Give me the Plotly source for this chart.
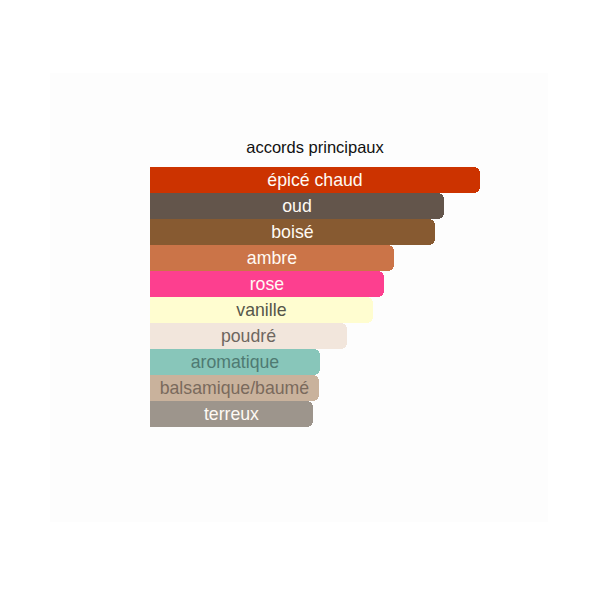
import plotly.graph_objects as go

# main accords, top to bottom, bar length relative to the strongest accord
accords = [
    "épicé chaud", "oud", "boisé", "ambre", "rose",
    "vanille", "poudré", "aromatique", "balsamique/baumé", "terreux",
]
strength = [100, 89, 86.5, 73.8, 71, 67.7, 59.8, 51.5, 51.2, 49.4]
bar_colors = [
    "#cc3300", "#63554b", "#875a31", "#cb7448", "#fd3f8f",
    "#fffdd0", "#f2e6dc", "#88c6ba", "#c9b29c", "#9d958c",
]
text_colors = [
    "#fffaf4", "#fffaf4", "#fffaf4", "#fffaf4", "#fffaf4",
    "#56564a", "#6e6660", "#4f7a72", "#7a6a5c", "#fffaf4",
]

fig = go.Figure()
fig.add_trace(
    go.Bar(
        x=strength,
        y=accords,
        orientation="h",
        text=accords,
        textposition="inside",
        insidetextanchor="middle",
        constraintext="none",
        textfont=dict(family="Arial, Liberation Sans, sans-serif", size=17.7, color=text_colors),
        marker=dict(color=bar_colors, cornerradius=6, line=dict(width=0)),
        hoverinfo="skip",
        showlegend=False,
    )
)

# very faint panel behind the chart
fig.add_shape(
    type="rect", xref="paper", yref="paper",
    x0=-0.303, x1=1.206, y0=-0.365, y1=1.3615,
    fillcolor="#fdfdfd", line=dict(width=0), layer="below",
)

fig.update_layout(
    width=600,
    height=600,
    margin=dict(l=142, r=128, t=159, b=181),
    bargap=0,
    paper_bgcolor="#ffffff",
    plot_bgcolor="rgba(0,0,0,0)",
    title=dict(
        text="accords principaux",
        x=0.5, xref="paper",
        y=1 - 139 / 600, yref="container", yanchor="middle",
        font=dict(family="Arial, Liberation Sans, sans-serif", size=16.5, color="#111111"),
    ),
    xaxis=dict(visible=False, range=[0, 100], fixedrange=True),
    yaxis=dict(visible=False, autorange="reversed", fixedrange=True),
)

fig.write_html("out.html")
